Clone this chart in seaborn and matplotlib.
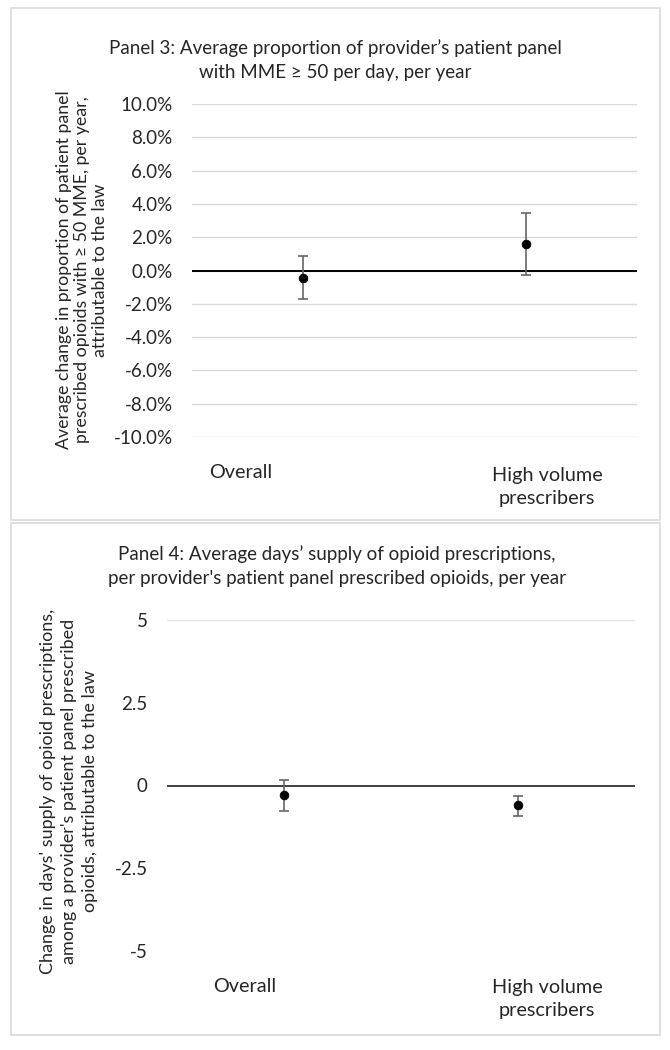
import numpy as np
import pandas as pd
import matplotlib
matplotlib.use("Agg")
import matplotlib.pyplot as plt
import matplotlib.patches as patches
from matplotlib.ticker import FuncFormatter
import seaborn as sns

sns.set_theme(style="white")
plt.rcParams['font.family'] = ['Lato', 'DejaVu Sans']

# data
groups = ['Overall', 'High volume\nprescribers']
p3_est = [-0.44, 1.60]
p3_lo = [-1.70, -0.26]
p3_hi = [0.86, 3.47]
p4_est = [-0.30, -0.60]
p4_lo = [-0.77, -0.92]
p4_hi = [0.17, -0.33]
p3_ticks = [-10, -8, -6, -4, -2, 0, 2, 4, 6, 8, 10]
p4_ticks = [-5, -2.5, 0, 2.5, 5]

df3 = pd.DataFrame({'group': groups, 'est': p3_est, 'lo': p3_lo, 'hi': p3_hi, 'x': [0, 1]})
df4 = pd.DataFrame({'group': groups, 'est': p4_est, 'lo': p4_lo, 'hi': p4_hi, 'x': [0, 1]})

W, H = 670, 1050
fig = plt.figure(figsize=(W / 100, H / 100), dpi=100)

def fx(px):
    return px / W

def fy(py):
    return 1 - py / H

# panel frames
for top, bot in [(8, 520), (523, 1035)]:
    fig.patches.append(patches.Rectangle((fx(11), fy(bot)), fx(660) - fx(11), fy(top) - fy(bot),
                                         transform=fig.transFigure, fill=False,
                                         edgecolor='#d9d9d9', lw=1.2))

def draw(ax, d, ticks, zero_col, grid):
    ax.set_xlim(-0.5, 1.5)
    ax.set_ylim(ticks[0], ticks[-1])
    ax.set_yticks(ticks)
    if grid:
        for t in ticks:
            ax.axhline(t, color='#d9d9d9', lw=1, zorder=0)
    else:
        ax.axhline(ticks[-1], color='#e3e3e3', lw=1, zorder=0)
    ax.axhline(0, color=zero_col, lw=1.4, zorder=1)
    ax.errorbar(d['x'], d['est'], yerr=[d['est'] - d['lo'], d['hi'] - d['est']],
                fmt='none', ecolor='#666666', elinewidth=1.2, capsize=3.5, capthick=1.2, zorder=2)
    sns.scatterplot(data=d, x='x', y='est', color='black', s=40, edgecolor='black', ax=ax, zorder=3)
    ax.set_xticks([])
    ax.set_xlabel('')
    ax.set_ylabel('')
    for s in ax.spines.values():
        s.set_visible(False)
    ax.tick_params(axis='y', length=0, pad=14, labelsize=13.5)

# Panel 3
ax3 = fig.add_axes([fx(192), fy(437), fx(637) - fx(192), fy(104) - fy(437)])
draw(ax3, df3, p3_ticks, 'black', True)
ax3.yaxis.set_major_formatter(FuncFormatter(lambda v, p: f'{v:.1f}%'))
fig.text(fx(335), fy(60), "Panel 3: Average proportion of provider\u2019s patient panel\nwith MME \u2265 50 per day, per year",
         ha='center', va='center', fontsize=13.5, linespacing=1.5)
fig.text(fx(82), fy(270), "Average change in proportion of patient panel\nprescribed opioids with \u2265 50 MME, per year,\nattributable to the law",
         ha='center', va='center', rotation=90, fontsize=12.8, linespacing=1.15)
fig.text(fx(241), fy(473), groups[0], ha='center', va='center', fontsize=14.3)
fig.text(fx(547), fy(487), groups[1], ha='center', va='center', fontsize=14.3, linespacing=1.4)

# Panel 4
ax4 = fig.add_axes([fx(167), fy(951), fx(635) - fx(167), fy(620) - fy(951)])
draw(ax4, df4, p4_ticks, '#404040', False)
ax4.yaxis.set_major_formatter(FuncFormatter(lambda v, p: f'{v:g}'))
fig.text(fx(337), fy(566), "Panel 4: Average days\u2019 supply of opioid prescriptions,\nper provider's patient panel prescribed opioids, per year",
         ha='center', va='center', fontsize=13.5, linespacing=1.5)
fig.text(fx(69), fy(791), "Change in days' supply of opioid prescriptions,\namong a provider's patient panel prescribed\nopioids, attributable to the law",
         ha='center', va='center', rotation=90, fontsize=13, linespacing=1.4)
fig.text(fx(245), fy(986), groups[0], ha='center', va='center', fontsize=14.3)
fig.text(fx(547), fy(999), groups[1], ha='center', va='center', fontsize=14.3, linespacing=1.4)

fig.savefig('out.png', dpi=100, facecolor='white')
